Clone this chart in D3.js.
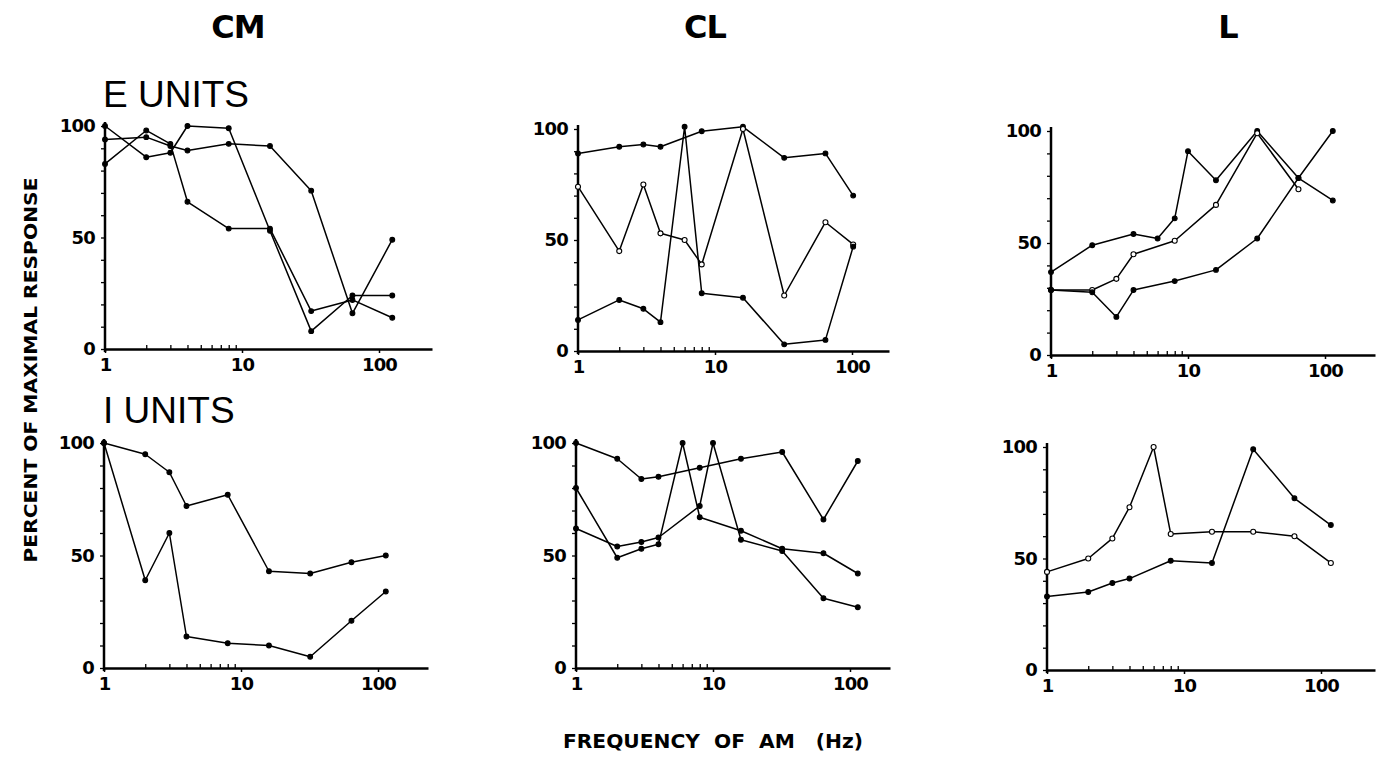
<!DOCTYPE html>
<html>
<head>
<meta charset="utf-8">
<script src="https://cdn.jsdelivr.net/npm/d3@7"></script>
<style>
  body { margin: 0; background: #fff; }
  text { fill: #000; }
</style>
</head>
<body>
<svg id="fig" width="1385" height="776"></svg>
<script>
// AM frequency (Hz) and percent of maximal response

// E units, CM
const cmE_f  = [1, 2, 3, 4, 8, 16, 32, 64, 125];
const cmE_u1 = [100, 86, 88, 100, 99, 53, 8, 24, 24];
const cmE_u2 = [94, 95, 91, 89, 92, 91, 71, 16, 49];
const cmE_u3 = [83, 98, 92, 66, 54, 54, 17, 22, 14];

// E units, CL
const clE_f1 = [1, 2, 3, 4, 8, 16, 32, 64, 102];
const clE_u1 = [89, 92, 93, 92, 99, 101, 87, 89, 70];
const clE_f2 = [1, 2, 3, 4, 6, 8, 16, 32, 64, 102];
const clE_u2 = [74, 45, 75, 53, 50, 39, 100, 25, 58, 48];
const clE_u3 = [14, 23, 19, 13, 101, 26, 24, 3, 5, 47];

// E units, L
const lE_f1 = [1, 2, 4, 6, 8, 10, 16, 32, 64, 114];
const lE_u1 = [37, 49, 54, 52, 61, 91, 78, 100, 79, 69];
const lE_f2 = [1, 2, 3, 4, 8, 16, 32, 64];
const lE_u2 = [29, 29, 34, 45, 51, 67, 99, 74];
const lE_f3 = [1, 2, 3, 4, 8, 16, 32, 64, 114];
const lE_u3 = [29, 28, 17, 29, 33, 38, 52, 79, 100];

// I units, CM
const cmI_f  = [1, 2, 3, 4, 8, 16, 32, 64, 114];
const cmI_u1 = [100, 95, 87, 72, 77, 43, 42, 47, 50];
const cmI_u2 = [100, 39, 60, 14, 11, 10, 5, 21, 34];

// I units, CL
const clI_f1 = [1, 2, 3, 4, 8, 16, 32, 64, 114];
const clI_u1 = [100, 93, 84, 85, 89, 93, 96, 66, 92];
const clI_f2 = [1, 2, 3, 4, 6, 8, 16, 32, 64, 114];
const clI_u2 = [80, 49, 53, 55, 100, 67, 61, 53, 51, 42];
const clI_f3 = [1, 2, 3, 4, 8, 10, 16, 32, 64, 114];
const clI_u3 = [62, 54, 56, 58, 72, 100, 57, 52, 31, 27];

// I units, L
const lI_f1 = [1, 2, 3, 4, 6, 8, 16, 32, 64, 118];
const lI_u1 = [44, 50, 59, 73, 100, 61, 62, 62, 60, 48];
const lI_f2 = [1, 2, 3, 4, 8, 16, 32, 64, 118];
const lI_u2 = [33, 35, 39, 41, 49, 48, 99, 77, 65];

const xMajor = [1, 10, 100];
const xMinor = [2, 3, 4, 5, 6, 7, 8, 9];
const yTicks = d3.range(0, 101, 10);
const yLabeled = [0, 50, 100];

const columnTitles = ["CM", "CL", "L"];
const rowTitles = ["E UNITS", "I UNITS"];

const zip = (f, v) => f.map((d, i) => [d, v[i]]);

// panel frames on the page (pixels)
const decade = 137;
const panels = [
  {left: 105,  right: 432,  top: 126, bottom: 349, series: [
    {pts: zip(cmE_f, cmE_u1)}, {pts: zip(cmE_f, cmE_u2)}, {pts: zip(cmE_f, cmE_u3)}]},
  {left: 578,  right: 889,  top: 129, bottom: 351, series: [
    {pts: zip(clE_f1, clE_u1)}, {pts: zip(clE_f2, clE_u2), open: true}, {pts: zip(clE_f2, clE_u3)}]},
  {left: 1051, right: 1375, top: 131, bottom: 355, series: [
    {pts: zip(lE_f1, lE_u1)}, {pts: zip(lE_f2, lE_u2), open: true}, {pts: zip(lE_f3, lE_u3)}]},
  {left: 104,  right: 428,  top: 443, bottom: 668, series: [
    {pts: zip(cmI_f, cmI_u1)}, {pts: zip(cmI_f, cmI_u2)}]},
  {left: 576,  right: 890,  top: 443, bottom: 668, series: [
    {pts: zip(clI_f1, clI_u1)}, {pts: zip(clI_f2, clI_u2)}, {pts: zip(clI_f3, clI_u3)}]},
  {left: 1047, right: 1375, top: 447, bottom: 670, series: [
    {pts: zip(lI_f1, lI_u1), open: true}, {pts: zip(lI_f2, lI_u2)}]}
];

const svg = d3.select("#fig");
const tickFont = "'DejaVu Sans', sans-serif";

panels.forEach(p => {
  const xMax = Math.pow(10, (p.right - p.left) / decade);
  const x = d3.scaleLog().domain([1, xMax]).range([p.left, p.right]);
  const y = d3.scaleLinear().domain([0, 100]).range([p.bottom, p.top]);

  const g = svg.append("g");

  // y axis
  const ya = g.append("g")
    .attr("transform", "translate(" + p.left + ",0)")
    .call(d3.axisLeft(y).tickValues(yTicks).tickSizeInner(4).tickSizeOuter(0).tickPadding(6)
      .tickFormat(d => yLabeled.includes(d) ? d : ""));
  ya.select(".domain").attr("d", "M0," + (p.bottom + 3) + "V" + (p.top - 4))
    .attr("stroke-width", 2.5);
  ya.selectAll(".tick line").attr("stroke-width", 1.3);

  // x axis, labelled decades
  const xa = g.append("g")
    .attr("transform", "translate(0," + p.bottom + ")")
    .call(d3.axisBottom(x).tickValues(xMajor).tickSizeInner(4).tickSizeOuter(0).tickPadding(5)
      .tickFormat(d3.format("d")));
  xa.select(".domain").attr("stroke-width", 2.5);
  xa.selectAll(".tick line").attr("stroke-width", 1.5);

  // minor ticks in the first decade, pointing up
  const xm = g.append("g")
    .attr("transform", "translate(0," + p.bottom + ")")
    .call(d3.axisTop(x).tickValues(xMinor).tickSize(4).tickFormat(""));
  xm.select(".domain").remove();
  xm.selectAll(".tick line").attr("stroke-width", 1.3);

  g.selectAll(".tick text")
    .attr("font-family", tickFont)
    .attr("font-weight", "bold")
    .attr("font-size", 18)
    .attr("letter-spacing", "-0.8px")
    .attr("fill", "#000");

  const line = d3.line().x(d => x(d[0])).y(d => y(d[1]));

  p.series.forEach(s => {
    g.append("path")
      .datum(s.pts)
      .attr("fill", "none")
      .attr("stroke", "#000")
      .attr("stroke-width", 1.5)
      .attr("stroke-linejoin", "round")
      .attr("d", line);

    g.append("g").selectAll("circle")
      .data(s.pts)
      .enter()
      .append("circle")
        .attr("cx", d => x(d[0]))
        .attr("cy", d => y(d[1]))
        .attr("r", s.open ? 2.5 : 2.4)
        .attr("fill", s.open ? "#fff" : "#000")
        .attr("stroke", "#000")
        .attr("stroke-width", 1.1);
  });
});

// column titles
const titleX = [238, 705, 1228];
columnTitles.forEach((t, i) => {
  svg.append("text")
    .attr("x", titleX[i]).attr("y", 38)
    .attr("text-anchor", "middle")
    .attr("font-family", "'DejaVu Sans', sans-serif")
    .attr("font-weight", "bold")
    .attr("font-size", 32)
    .attr("letter-spacing", "-1px")
    .text(t);
});

// row titles
const rowY = [107, 423];
rowTitles.forEach((t, i) => {
  svg.append("text")
    .attr("x", 103).attr("y", rowY[i])
    .attr("font-family", "'Liberation Sans', Arial, sans-serif")
    .attr("font-size", 37)
    .text(t);
});

// axis titles
svg.append("text")
  .attr("transform", "translate(37,370) rotate(-90)")
  .attr("text-anchor", "middle")
  .attr("font-family", "'DejaVu Sans', sans-serif")
  .attr("font-weight", "bold")
  .attr("font-size", 18)
  .attr("textLength", 385)
  .attr("lengthAdjust", "spacingAndGlyphs")
  .text("PERCENT OF MAXIMAL RESPONSE");

svg.append("text")
  .attr("x", 713).attr("y", 748)
  .attr("text-anchor", "middle")
  .attr("font-family", "'DejaVu Sans', sans-serif")
  .attr("font-weight", "bold")
  .attr("font-size", 19)
  .attr("textLength", 300)
  .attr("lengthAdjust", "spacingAndGlyphs")
  .attr("xml:space", "preserve")
  .text("FREQUENCY  OF  AM   (Hz)");
</script>
</body>
</html>
